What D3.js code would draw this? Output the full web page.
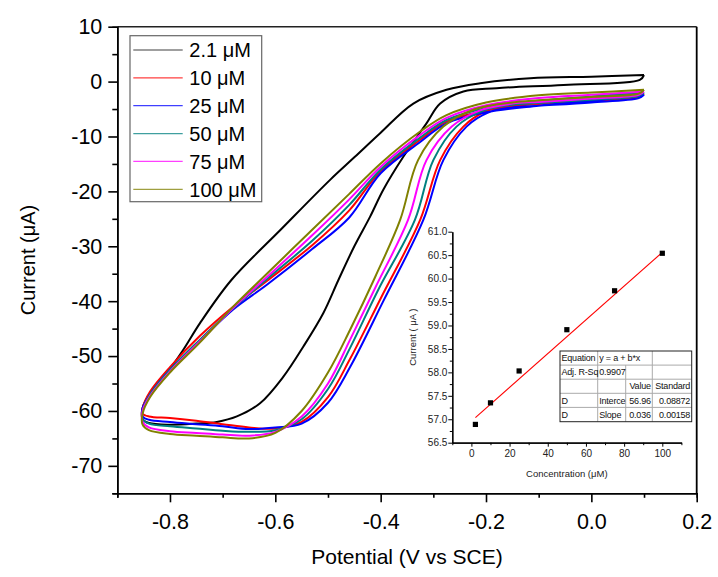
<!DOCTYPE html>
<html>
<head>
<meta charset="utf-8">
<script src="https://cdn.jsdelivr.net/npm/d3@7"></script>
<style>
  html, body { margin: 0; padding: 0; background: #fff; }
  svg { display: block; font-family: "Liberation Sans", Arial, sans-serif; }
</style>
</head>
<body>
<svg id="chart" width="718" height="577"></svg>
<script>
// ---------------- DATA ----------------
const seriesNames = ["2.1 \u03bcM", "10 \u03bcM", "25 \u03bcM", "50 \u03bcM", "75 \u03bcM", "100 \u03bcM"];
const seriesColors = ["#000000", "#ff0000", "#0000ff", "#008080", "#ff00ff", "#808000"];

// CV loops: [potential (V vs SCE), current (uA)]
const cv_2_1 = [[0.10,1.2],[0.0,0.9],[-0.116,0.6],[-0.211,-0.3],[-0.275,-1.5],[-0.338,-4.0],[-0.401,-9.4],[-0.45,-13.8],[-0.496,-17.9],[-0.59,-27.0],[-0.683,-36.1],[-0.743,-44.0],[-0.775,-48.9],[-0.806,-53.1],[-0.838,-56.8],[-0.852,-59.5],[-0.852,-61.5],
  [-0.84,-62.2],[-0.8,-62.5],[-0.75,-62.3],[-0.711,-62.0],[-0.673,-61.0],[-0.629,-58.6],[-0.585,-53.8],[-0.547,-48.3],[-0.509,-42.2],[-0.48,-36.1],[-0.45,-30.0],[-0.42,-24.6],[-0.395,-19.7],[-0.357,-13.7],[-0.313,-7.6],[-0.287,-4.0],[-0.243,-1.8],[-0.18,-1.2],[-0.053,-0.6],[0.092,0.3],[0.10,1.2]];
const cv_10 = [[0.10,-2.2],[0.0,-3.1],[-0.1,-4.0],[-0.2,-5.3],[-0.275,-7.3],[-0.325,-10.6],[-0.4,-16.3],[-0.46,-23.5],[-0.53,-29.8],[-0.616,-36.3],[-0.68,-41.0],[-0.743,-46.3],[-0.8,-52.0],[-0.838,-56.5],[-0.852,-59.5],
  [-0.852,-60.5],[-0.84,-61.0],[-0.8,-61.3],[-0.75,-61.8],[-0.7,-62.4],[-0.65,-63.0],[-0.6,-63.2],[-0.55,-62.0],[-0.5,-57.5],[-0.458,-50.5],[-0.4,-39.5],[-0.325,-25.2],[-0.287,-14.3],[-0.243,-8.2],[-0.2,-5.4],[-0.15,-4.4],[-0.1,-4.1],[0.0,-3.5],[0.09,-2.8],[0.10,-2.2]];
const cv_25 = [[0.10,-2.4],[0.0,-3.5],[-0.1,-4.4],[-0.2,-5.6],[-0.275,-7.6],[-0.325,-11.0],[-0.4,-16.7],[-0.46,-24.8],[-0.53,-30.5],[-0.616,-37.0],[-0.68,-41.5],[-0.743,-47.2],[-0.8,-52.5],[-0.838,-57.0],[-0.852,-59.5],
  [-0.852,-61.0],[-0.84,-61.6],[-0.8,-62.0],[-0.75,-62.4],[-0.7,-62.8],[-0.65,-63.3],[-0.6,-63.0],[-0.55,-62.3],[-0.5,-58.5],[-0.458,-52.0],[-0.395,-40.0],[-0.319,-25.2],[-0.281,-14.3],[-0.237,-8.2],[-0.195,-5.6],[-0.15,-4.7],[-0.1,-4.4],[0.0,-3.8],[0.09,-3.0],[0.10,-2.4]];
const cv_50 = [[0.10,-2.0],[0.0,-2.7],[-0.1,-3.5],[-0.2,-4.8],[-0.275,-7.0],[-0.325,-10.2],[-0.4,-16.0],[-0.46,-22.5],[-0.53,-29.0],[-0.616,-36.0],[-0.68,-41.3],[-0.743,-47.0],[-0.8,-52.5],[-0.838,-57.0],[-0.852,-60.0],
  [-0.852,-61.5],[-0.84,-62.3],[-0.8,-62.8],[-0.75,-63.2],[-0.7,-63.6],[-0.65,-63.8],[-0.6,-63.5],[-0.55,-61.5],[-0.5,-56.0],[-0.458,-48.5],[-0.405,-38.0],[-0.335,-25.2],[-0.3,-14.3],[-0.256,-8.2],[-0.205,-5.3],[-0.15,-4.2],[-0.1,-3.9],[0.0,-3.3],[0.09,-2.6],[0.10,-2.0]];
const cv_75 = [[0.10,-1.8],[0.0,-2.4],[-0.1,-3.0],[-0.2,-4.3],[-0.275,-6.6],[-0.325,-9.7],[-0.4,-15.5],[-0.46,-21.5],[-0.53,-28.0],[-0.616,-35.6],[-0.68,-41.2],[-0.743,-47.3],[-0.8,-52.8],[-0.838,-57.3],[-0.852,-60.0],
  [-0.852,-62.0],[-0.84,-63.0],[-0.8,-63.7],[-0.75,-64.0],[-0.7,-64.3],[-0.65,-64.5],[-0.6,-63.8],[-0.55,-61.0],[-0.5,-55.0],[-0.458,-47.0],[-0.41,-37.5],[-0.348,-25.2],[-0.313,-14.3],[-0.265,-8.2],[-0.21,-5.2],[-0.15,-4.0],[-0.1,-3.7],[0.0,-3.1],[0.09,-2.4],[0.10,-1.8]];
const cv_100 = [[0.10,-1.5],[0.0,-2.0],[-0.1,-2.5],[-0.2,-3.8],[-0.275,-6.1],[-0.325,-9.1],[-0.4,-14.9],[-0.46,-20.5],[-0.53,-27.0],[-0.616,-35.0],[-0.68,-41.0],[-0.743,-47.5],[-0.8,-53.0],[-0.838,-57.5],[-0.852,-60.5],
  [-0.852,-62.5],[-0.84,-63.5],[-0.8,-64.2],[-0.75,-64.5],[-0.7,-64.8],[-0.65,-65.0],[-0.6,-64.0],[-0.55,-60.0],[-0.5,-53.0],[-0.458,-45.2],[-0.41,-35.5],[-0.363,-25.2],[-0.329,-14.3],[-0.281,-8.2],[-0.22,-5.0],[-0.15,-3.8],[-0.1,-3.4],[0.0,-2.8],[0.09,-2.2],[0.10,-1.5]];
const cvSeries = [cv_2_1, cv_10, cv_25, cv_50, cv_75, cv_100];

const xTicksMain = [-0.8, -0.6, -0.4, -0.2, 0.0, 0.2];
const yTicksMain = [10, 0, -10, -20, -30, -40, -50, -60, -70];

// Inset calibration
const concentrations = [2.1, 10, 25, 50, 75, 100];
const peakCurrents = [56.89, 57.35, 58.03, 58.91, 59.74, 60.54];
const fitIntercept = 56.96;
const fitSlope = 0.036;
const insetXTicks = [0, 20, 40, 60, 80, 100];
const insetYTicks = [56.5, 57.0, 57.5, 58.0, 58.5, 59.0, 59.5, 60.0, 60.5, 61.0];
const tableRows = [
  ["Equation", "y = a + b*x", "", ""],
  ["Adj. R-Sq", "0.9907", "", ""],
  ["", "", "Value", "Standard"],
  ["D", "Interce", "56.96", "0.08872"],
  ["D", "Slope", "0.036", "0.00158"]
];

// ---------------- DRAW ----------------
const svg = d3.select("#chart");
const x = d3.scaleLinear().domain([-0.9, 0.2]).range([117.3, 696.7]);
const y = d3.scaleLinear().domain([-75, 10]).range([493.3, 26.7]);

// frame top & right
svg.append("line").attr("x1", x(-0.9)).attr("x2", x(0.2)).attr("y1", y(10)).attr("y2", y(10))
  .attr("stroke", "#222").attr("stroke-width", 1.6);
svg.append("line").attr("x1", x(0.2)).attr("x2", x(0.2)).attr("y1", y(10)).attr("y2", y(-75))
  .attr("stroke", "#000").attr("stroke-width", 1.8);

// curves
const line = d3.line().x(d => x(d[0])).y(d => y(d[1])).curve(d3.curveCatmullRom.alpha(0.5));
const curves = svg.append("g");
cvSeries.forEach((s, i) => {
  curves.append("path").datum(s).attr("d", line).attr("fill", "none")
    .attr("stroke", seriesColors[i]).attr("stroke-width", 2).attr("stroke-linejoin", "round");
});

// axes
function styleAxis(g, fs) {
  g.select(".domain").attr("stroke", "#000").attr("stroke-width", 1.6);
  g.selectAll(".tick line").attr("stroke", "#000").attr("stroke-width", 1.6);
  g.selectAll("text").attr("font-size", fs).attr("fill", "#000")
    .attr("font-family", "'Liberation Sans', Arial, sans-serif");
}
const xMinor = d3.range(-0.9, 0.21, 0.2).map(v => +v.toFixed(2));
svg.append("g").attr("transform", `translate(0,${y(-75)})`)
  .call(d3.axisBottom(x).tickValues(xMinor).tickSize(4.5).tickFormat(""))
  .call(g => styleAxis(g, 0));
const gx = svg.append("g").attr("transform", `translate(0,${y(-75)})`)
  .call(d3.axisBottom(x).tickValues(xTicksMain).tickSize(9).tickSizeOuter(0).tickPadding(11)
    .tickFormat(d3.format(".1f")));
styleAxis(gx, "21.5px");
gx.selectAll("text").text(d => d3.format(".1f")(d).replace("\u2212", "-"));

const yMinor = d3.range(-75, 10, 10);
svg.append("g").attr("transform", `translate(${x(-0.9)},0)`)
  .call(d3.axisLeft(y).tickValues(yMinor).tickSize(5).tickFormat(""))
  .call(g => styleAxis(g, 0));
const gy = svg.append("g").attr("transform", `translate(${x(-0.9)},0)`)
  .call(d3.axisLeft(y).tickValues(yTicksMain).tickSize(9).tickSizeOuter(0).tickPadding(6)
    .tickFormat(d => String(d)));
styleAxis(gy, "21.5px");

// axis titles
svg.append("text").attr("x", (x(-0.9) + x(0.2)) / 2).attr("y", 564).attr("text-anchor", "middle")
  .attr("font-size", "21px").text("Potential (V vs SCE)");
svg.append("text").attr("transform", `translate(35,${(y(10) + y(-75)) / 2}) rotate(-90)`)
  .attr("text-anchor", "middle").attr("font-size", "20px").text("Current (\u03bcA)");

// legend
const lg = svg.append("g");
lg.append("rect").attr("x", 130).attr("y", 35.7).attr("width", 131.7).attr("height", 166)
  .attr("fill", "#fff").attr("stroke", "#666").attr("stroke-width", 1.2);
seriesNames.forEach((n, i) => {
  const cy = 50 + i * 27.86;
  lg.append("line").attr("x1", 133.3).attr("x2", 182.7).attr("y1", cy).attr("y2", cy)
    .attr("stroke", seriesColors[i]).attr("stroke-width", 1.2).attr("opacity", 0.75);
  lg.append("text").attr("x", 189.3).attr("y", cy).attr("dy", "0.36em").attr("font-size", "20px").text(n);
});

// ---------------- INSET ----------------
const xi = d3.scaleLinear().domain([-10, 110]).range([452.3, 681.4]);
const yi = d3.scaleLinear().domain([56.5, 61.0]).range([442.7, 231.7]);
const inset = svg.append("g");

function styleInset(g) {
  g.select(".domain").attr("stroke", "#000").attr("stroke-width", 1.2);
  g.selectAll(".tick line").attr("stroke", "#000").attr("stroke-width", 1);
  g.selectAll("text").attr("font-size", "10px").attr("fill", "#222")
    .attr("font-family", "'Liberation Sans', Arial, sans-serif");
}
inset.append("g").attr("transform", `translate(0,${yi(56.5)})`)
  .call(d3.axisBottom(xi).tickValues(d3.range(-10, 111, 20)).tickSize(2.5).tickFormat("").tickSizeOuter(0))
  .call(styleInset);
inset.append("g").attr("transform", `translate(0,${yi(56.5)})`)
  .call(d3.axisBottom(xi).tickValues(insetXTicks).tickSize(4).tickPadding(3).tickSizeOuter(0))
  .call(styleInset);
inset.append("g").attr("transform", `translate(${xi(-10)},0)`)
  .call(d3.axisLeft(yi).tickValues(d3.range(56.75, 61, 0.5)).tickSize(2.5).tickFormat("").tickSizeOuter(0))
  .call(styleInset);
inset.append("g").attr("transform", `translate(${xi(-10)},0)`)
  .call(d3.axisLeft(yi).tickValues(insetYTicks).tickSize(4).tickPadding(1).tickSizeOuter(0)
    .tickFormat(d3.format(".1f")))
  .call(styleInset);

inset.append("text").attr("x", (xi(-10) + xi(110)) / 2).attr("y", 476.5).attr("text-anchor", "middle")
  .attr("font-size", "9.5px").attr("fill", "#222").text("Concentration (\u03bcM)");
inset.append("text").attr("transform", `translate(416,${(yi(56.5) + yi(61)) / 2}) rotate(-90)`)
  .attr("text-anchor", "middle").attr("font-size", "9.5px").attr("fill", "#222").text("Current ( \u03bcA )");

// fit line
inset.append("line")
  .attr("x1", xi(concentrations[0])).attr("y1", yi(fitIntercept + fitSlope * concentrations[0]))
  .attr("x2", xi(100)).attr("y2", yi(fitIntercept + fitSlope * 100))
  .attr("stroke", "#ff0000").attr("stroke-width", 1.1);
// points
inset.selectAll("rect.pt").data(concentrations).enter().append("rect")
  .attr("x", (d) => xi(d) - 2.6).attr("y", (d, i) => yi(peakCurrents[i]) - 2.6)
  .attr("width", 5.2).attr("height", 5.2).attr("fill", "#000");

// table
const colX = [560, 597.7, 625.7, 652.3, 691.7];
const rowY = [351, 365.1, 379.2, 393.3, 407.4, 421.7];
const tb = inset.append("g");
tb.append("rect").attr("x", colX[0]).attr("y", rowY[0]).attr("width", colX[4] - colX[0]).attr("height", rowY[5] - rowY[0])
  .attr("fill", "#fff").attr("stroke", "none");
for (let r = 1; r < 5; r++) {
  tb.append("line").attr("x1", colX[0]).attr("x2", colX[4]).attr("y1", rowY[r]).attr("y2", rowY[r])
    .attr("stroke", "#aaa").attr("stroke-width", 1);
}
for (let c = 1; c < 4; c++) {
  const startRow = (c === 2) ? 1 : 0;
  tb.append("line").attr("x1", colX[c]).attr("x2", colX[c]).attr("y1", rowY[startRow]).attr("y2", rowY[5])
    .attr("stroke", "#aaa").attr("stroke-width", 1);
}
tb.append("rect").attr("x", colX[0]).attr("y", rowY[0]).attr("width", colX[4] - colX[0]).attr("height", rowY[5] - rowY[0])
  .attr("fill", "none").attr("stroke", "#222").attr("stroke-width", 1);
tableRows.forEach((row, r) => {
  const ty = (rowY[r] + rowY[r + 1]) / 2;
  row.forEach((txt, c) => {
    if (!txt) return;
    const right = (c >= 2);
    tb.append("text")
      .attr("x", right ? colX[c + 1] - 1.5 : colX[c] + 1.5)
      .attr("y", ty).attr("dy", "0.35em")
      .attr("text-anchor", right ? "end" : "start")
      .attr("font-size", "9px").attr("fill", "#111").attr("letter-spacing", "-0.2px").text(txt);
  });
});
</script>
</body>
</html>
